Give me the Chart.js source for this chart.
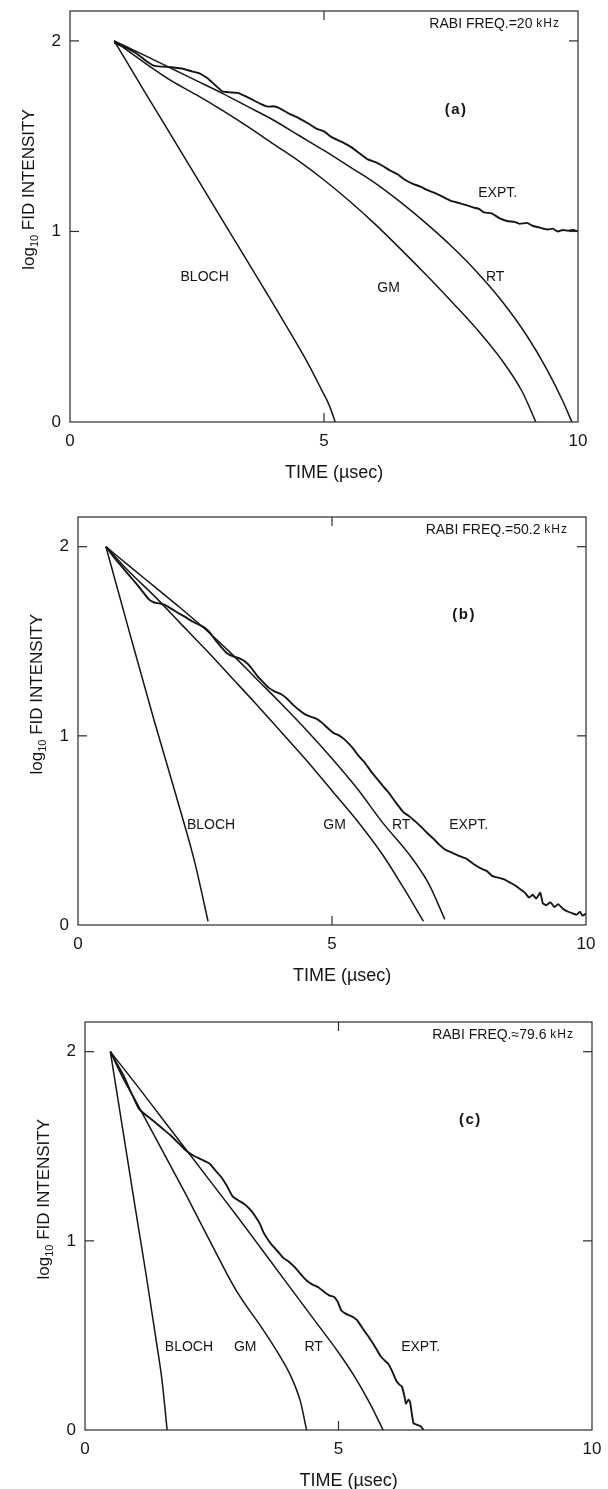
<!DOCTYPE html>
<html><head><meta charset="utf-8">
<script src="https://cdn.jsdelivr.net/npm/chart.js@4.4.0/dist/chart.umd.min.js"></script>
<style>
html,body{margin:0;padding:0;background:#fff;}
body{width:608px;height:1489px;position:relative;overflow:hidden;}
canvas{position:absolute;left:0;}
</style></head><body>
<canvas id="ca" width="608" height="496" style="top:0px"></canvas>
<canvas id="cb" width="608" height="496" style="top:496px"></canvas>
<canvas id="cc" width="608" height="497" style="top:992px"></canvas>
<script>
// ---------- DATA ----------
const xTickValues = [0, 5, 10];
const yTickValues = [0, 1, 2];
const seriesNames = ['BLOCH', 'GM', 'RT', 'EXPT.'];
const panelTags = ['(a)', '(b)', '(c)'];
const rabiTexts = ['RABI FREQ.=20 ', 'RABI FREQ.=50.2 ', 'RABI FREQ.\u224879.6 '];
const rabiUnit = 'kHz';
const xTitle = 'TIME (\u00b5sec)';

// Panel (a)  Rabi 20 kHz
const blochA = [[0.87,2.0],[1.5,1.72],[2.0,1.5],[2.5,1.28],[3.0,1.06],[3.5,0.84],[4.0,0.62],[4.4,0.44],[4.7,0.3],[4.95,0.17],[5.1,0.09],[5.22,0]];
const gmA = [[0.87,2.0],[1.5,1.88],[2.0,1.79],[2.5,1.715],[3.0,1.635],[3.5,1.55],[4.0,1.46],[4.5,1.37],[5.0,1.27],[5.5,1.16],[6.0,1.04],[6.5,0.91],[7.0,0.775],[7.5,0.635],[8.0,0.49],[8.5,0.325],[8.9,0.16],[9.17,0]];
const rtA = [[0.87,2.0],[1.5,1.92],[2.0,1.855],[2.5,1.79],[3.0,1.725],[3.5,1.655],[4.0,1.585],[4.5,1.505],[5.0,1.425],[5.5,1.34],[6.0,1.255],[6.5,1.155],[7.0,1.045],[7.5,0.925],[8.0,0.79],[8.5,0.635],[9.0,0.45],[9.4,0.27],[9.7,0.11],[9.88,0]];
const exptA = [[0.87,1.99],[1.1,1.965],[1.3,1.935],[1.45,1.905],[1.55,1.885],[1.65,1.87],[1.8,1.865],[2.0,1.862],[2.2,1.855],[2.4,1.84],[2.55,1.83],[2.7,1.805],[2.85,1.77],[3.0,1.735],[3.15,1.73],[3.3,1.727],[3.45,1.71],[3.6,1.69],[3.75,1.67],[3.9,1.655],[4.0,1.657],[4.1,1.65],[4.3,1.62],[4.5,1.595],[4.7,1.565],[4.85,1.54],[5.0,1.525],[5.15,1.495],[5.35,1.47],[5.55,1.44],[5.7,1.41],[5.85,1.38],[6.0,1.365],[6.15,1.345],[6.3,1.32],[6.45,1.3],[6.6,1.27],[6.75,1.25],[6.9,1.235],[7.05,1.215],[7.2,1.2],[7.35,1.18],[7.5,1.16],[7.65,1.15],[7.8,1.138],[7.95,1.125],[8.05,1.118],[8.15,1.1],[8.3,1.095],[8.45,1.07],[8.6,1.055],[8.75,1.05],[8.85,1.04],[9.0,1.045],[9.1,1.03],[9.25,1.02],[9.4,1.01],[9.5,1.015],[9.6,1.0],[9.7,1.008],[9.8,1.004],[9.9,1.008],[10.0,1.0]];

// Panel (b)  Rabi 50.2 kHz
const blochB = [[0.55,2.0],[1.0,1.56],[1.5,1.08],[2.0,0.62],[2.3,0.33],[2.56,0.02]];
const gmB = [[0.55,2.0],[1.0,1.87],[1.5,1.74],[2.0,1.6],[2.5,1.46],[3.0,1.315],[3.5,1.17],[4.0,1.02],[4.5,0.87],[5.0,0.71],[5.5,0.55],[6.0,0.37],[6.4,0.2],[6.8,0.02]];
const rtB = [[0.55,2.0],[1.0,1.9],[1.5,1.79],[2.0,1.68],[2.5,1.565],[3.0,1.44],[3.5,1.305],[4.0,1.17],[4.5,1.03],[5.0,0.88],[5.5,0.72],[6.0,0.54],[6.5,0.38],[6.9,0.22],[7.22,0.03]];
const exptB = [[0.55,2.0],[0.75,1.93],[0.94,1.87],[1.1,1.82],[1.25,1.77],[1.4,1.72],[1.5,1.705],[1.6,1.7],[1.71,1.692],[1.85,1.67],[1.94,1.655],[2.1,1.63],[2.25,1.605],[2.4,1.585],[2.5,1.57],[2.6,1.545],[2.71,1.505],[2.85,1.46],[2.94,1.435],[3.05,1.42],[3.18,1.41],[3.3,1.39],[3.41,1.36],[3.52,1.32],[3.64,1.285],[3.75,1.255],[3.87,1.235],[4.0,1.22],[4.1,1.2],[4.25,1.16],[4.41,1.125],[4.5,1.11],[4.6,1.1],[4.7,1.09],[4.8,1.07],[4.92,1.04],[5.03,1.015],[5.12,1.005],[5.25,0.98],[5.41,0.935],[5.52,0.895],[5.64,0.86],[5.76,0.815],[5.88,0.775],[6.0,0.735],[6.1,0.705],[6.25,0.65],[6.41,0.595],[6.52,0.575],[6.65,0.545],[6.75,0.52],[6.88,0.485],[7.0,0.455],[7.11,0.425],[7.22,0.4],[7.34,0.385],[7.5,0.365],[7.65,0.35],[7.8,0.32],[7.96,0.295],[8.05,0.285],[8.15,0.26],[8.27,0.25],[8.4,0.24],[8.5,0.225],[8.6,0.21],[8.7,0.19],[8.8,0.17],[8.88,0.145],[8.95,0.16],[9.02,0.14],[9.1,0.17],[9.15,0.115],[9.22,0.105],[9.3,0.12],[9.38,0.095],[9.45,0.11],[9.55,0.085],[9.65,0.07],[9.75,0.06],[9.82,0.055],[9.88,0.07],[9.93,0.05],[10.0,0.06]];

// Panel (c)  Rabi 79.6 kHz
const blochC = [[0.5,2.0],[0.75,1.58],[1.0,1.16],[1.2,0.83],[1.4,0.48],[1.52,0.26],[1.62,0]];
const gmC = [[0.5,2.0],[0.75,1.86],[1.0,1.74],[1.5,1.49],[2.0,1.24],[2.5,0.98],[3.0,0.73],[3.5,0.535],[3.8,0.41],[4.05,0.29],[4.25,0.15],[4.37,0]];
const rtC = [[0.5,2.0],[1.0,1.83],[1.5,1.655],[2.0,1.48],[2.5,1.305],[3.0,1.13],[3.5,0.95],[4.0,0.77],[4.5,0.59],[5.0,0.41],[5.3,0.29],[5.6,0.15],[5.88,0]];
const exptC = [[0.5,2.0],[0.62,1.94],[0.75,1.88],[0.9,1.79],[1.06,1.7],[1.2,1.665],[1.37,1.63],[1.52,1.595],[1.68,1.56],[1.85,1.515],[1.98,1.48],[2.08,1.46],[2.14,1.45],[2.3,1.43],[2.45,1.41],[2.58,1.37],[2.68,1.34],[2.8,1.29],[2.91,1.235],[3.02,1.215],[3.14,1.195],[3.26,1.165],[3.37,1.125],[3.45,1.09],[3.52,1.045],[3.6,1.01],[3.68,0.98],[3.8,0.945],[3.91,0.91],[4.02,0.89],[4.14,0.86],[4.25,0.825],[4.37,0.79],[4.48,0.77],[4.6,0.755],[4.72,0.73],[4.83,0.71],[4.91,0.705],[4.98,0.68],[5.06,0.63],[5.14,0.615],[5.22,0.606],[5.3,0.595],[5.37,0.58],[5.48,0.535],[5.6,0.49],[5.72,0.44],[5.83,0.39],[5.92,0.365],[5.98,0.35],[6.06,0.31],[6.14,0.26],[6.2,0.24],[6.25,0.23],[6.3,0.18],[6.33,0.14],[6.38,0.16],[6.41,0.15],[6.45,0.08],[6.48,0.035],[6.53,0.03],[6.56,0.026],[6.62,0.02],[6.68,0]];

// ---------- STYLE / LAYOUT ----------
const FONT = "'Liberation Sans', Arial, Helvetica, sans-serif";
const INK = '#151515';
const X_MAX = 10, Y_MAX = 2.157;

const panels = [
  { id:'ca', H:496, left:70, right:578, top:11, bottom:422,
    series:[blochA, gmA, rtA, exptA],
    labelPos:[[2.65,0.76],[6.27,0.705],[8.37,0.76],[8.42,1.2]] },
  { id:'cb', H:496, left:78, right:586, top:21, bottom:429,
    series:[blochB, gmB, rtB, exptB],
    labelPos:[[2.62,0.53],[5.05,0.53],[6.36,0.53],[7.69,0.53]] },
  { id:'cc', H:497, left:85, right:592, top:30, bottom:438,
    series:[blochC, gmC, rtC, exptC],
    labelPos:[[2.05,0.44],[3.16,0.44],[4.51,0.44],[6.62,0.44]] }
];

const X_AXIS_H = 34;

const decor = {
  id: 'decor',
  afterDatasetsDraw(chart, args, o) {
    const { ctx, chartArea: ca, scales: { x, y } } = chart;
    ctx.save();
    ctx.strokeStyle = '#2a2a2a';
    ctx.lineWidth = 1.2;
    ctx.strokeRect(ca.left, ca.top, ca.right - ca.left, ca.bottom - ca.top);
    const TL = 9;
    const seg = (a, b, c, d) => { ctx.beginPath(); ctx.moveTo(a, b); ctx.lineTo(c, d); ctx.stroke(); };
    xTickValues.forEach(v => {
      if (v <= x.min || v >= x.max) return;
      const px = x.getPixelForValue(v);
      seg(px, ca.bottom, px, ca.bottom - TL);
      seg(px, ca.top, px, ca.top + TL);
    });
    yTickValues.forEach(v => {
      if (v <= y.min || v >= y.max) return;
      const py = y.getPixelForValue(v);
      seg(ca.left, py, ca.left + TL, py);
      seg(ca.right, py, ca.right - TL, py);
    });

    ctx.fillStyle = INK;
    ctx.font = '14px ' + FONT;
    ctx.textAlign = 'center';
    ctx.textBaseline = 'middle';
    o.labelPos.forEach((p, i) => {
      ctx.fillText(seriesNames[i], x.getPixelForValue(p[0]), y.getPixelForValue(p[1]));
    });
    ctx.font = 'bold 15px ' + FONT;
    ctx.letterSpacing = '1.5px';
    ctx.fillText(panelTags[o.idx], x.getPixelForValue(7.6), y.getPixelForValue(1.64));
    ctx.letterSpacing = '0px';
    ctx.textAlign = 'right';
    ctx.font = '12px ' + FONT;
    ctx.letterSpacing = '1px';
    const rx = ca.right - 18, ry = ca.top + 13;
    const uw = ctx.measureText(rabiUnit).width;
    ctx.fillText(rabiUnit, rx, ry);
    ctx.letterSpacing = '0px';
    ctx.font = '14px ' + FONT;
    ctx.fillText(rabiTexts[o.idx], rx - uw, ry);
    ctx.textAlign = 'center';
    ctx.font = '18px ' + FONT;
    ctx.fillText(xTitle, x.getPixelForValue(5.2), ca.bottom + 51);
    ctx.save();
    ctx.translate(ca.left - 36, y.getPixelForValue(1.22));
    ctx.rotate(-Math.PI / 2);
    ctx.textAlign = 'left';
    ctx.textBaseline = 'alphabetic';
    const big = '17px ' + FONT, small = '11px ' + FONT;
    ctx.font = big; const w1 = ctx.measureText('log').width;
    ctx.font = small; const w2 = ctx.measureText('10').width;
    ctx.font = big; const w3 = ctx.measureText(' FID INTENSITY').width;
    let sx = -(w1 + w2 + w3) / 2;
    ctx.font = big; ctx.fillText('log', sx, 0); sx += w1;
    ctx.font = small; ctx.fillText('10', sx, 4); sx += w2;
    ctx.font = big; ctx.fillText(' FID INTENSITY', sx, 0);
    ctx.restore();
    ctx.restore();
  }
};

panels.forEach((p, idx) => {
  const datasets = p.series.map((s, i) => ({
    label: seriesNames[i],
    data: s.map(([xv, yv]) => ({ x: xv, y: yv })),
    borderColor: INK,
    borderWidth: i === 3 ? 1.9 : 1.5,
    pointRadius: 0,
    fill: false,
    tension: i === 3 ? 0.15 : 0,
    cubicInterpolationMode: i === 3 ? 'default' : 'monotone'
  }));
  new Chart(document.getElementById(p.id), {
    type: 'line',
    data: { datasets },
    plugins: [decor],
    options: {
      responsive: false,
      animation: false,
      devicePixelRatio: 1,
      layout: { padding: { left: 0, right: 608 - p.right, top: p.top, bottom: p.H - p.bottom - X_AXIS_H } },
      plugins: { legend: { display: false }, tooltip: { enabled: false },
        decor: { idx, labelPos: p.labelPos } },
      scales: {
        x: {
          type: 'linear', min: 0, max: X_MAX,
          afterFit: s => { s.height = X_AXIS_H; s.paddingLeft = 0; s.paddingRight = 0; },
          afterBuildTicks: s => { s.ticks = xTickValues.map(v => ({ value: v })); },
          grid: { display: false, drawTicks: false },
          border: { display: false },
          ticks: { padding: 9, color: INK, font: { family: FONT, size: 17 }, maxRotation: 0, autoSkip: false,
                   callback: v => String(v) }
        },
        y: {
          type: 'linear', min: 0, max: Y_MAX,
          afterFit: s => { s.width = p.left; s.paddingTop = 0; s.paddingBottom = 0; },
          afterBuildTicks: s => { s.ticks = yTickValues.map(v => ({ value: v })); },
          grid: { display: false, drawTicks: false },
          border: { display: false },
          ticks: { padding: 9, color: INK, font: { family: FONT, size: 17 }, autoSkip: false,
                   callback: v => String(v) }
        }
      }
    }
  });
});
</script>
</body></html>
